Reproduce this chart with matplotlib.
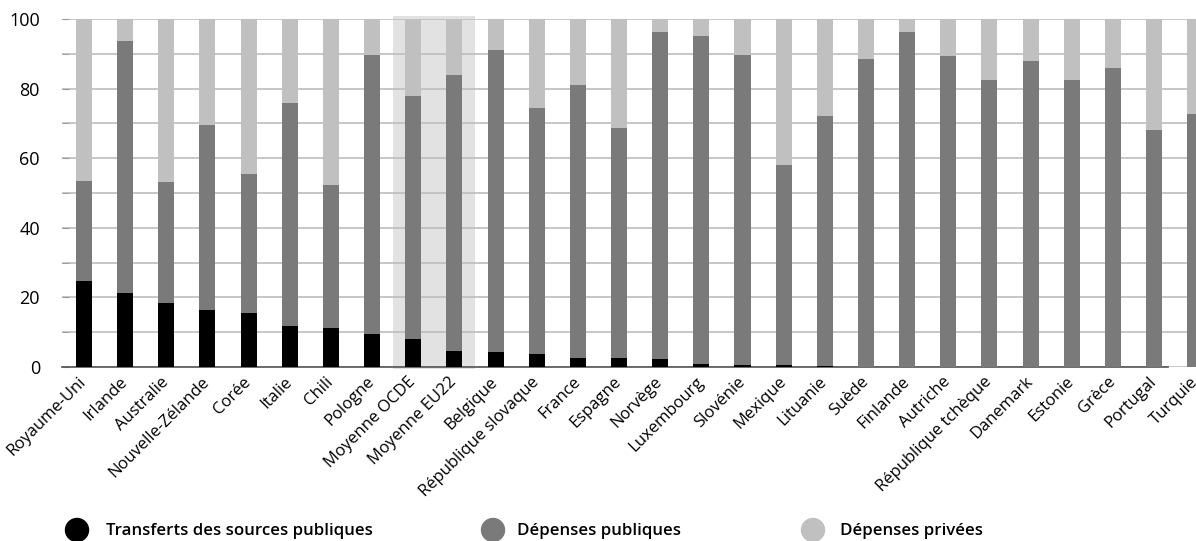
import matplotlib.pyplot as plt
import numpy as np
from matplotlib.patches import Rectangle, Ellipse

pays = ['Royaume-Uni', 'Irlande', 'Australie', 'Nouvelle-Zélande', 'Corée', 'Italie',
        'Chili', 'Pologne', 'Moyenne OCDE', 'Moyenne EU22', 'Belgique',
        'République slovaque', 'France', 'Espagne', 'Norvège', 'Luxembourg',
        'Slovénie', 'Mexique', 'Lituanie', 'Suède', 'Finlande', 'Autriche',
        'République tchèque', 'Danemark', 'Estonie', 'Grèce', 'Portugal', 'Turquie']

# part des transferts (bas de la barre)
transferts = [24.6, 21.2, 18.4, 16.3, 15.6, 11.7, 11.1, 9.5, 8.0, 4.5, 4.3,
              3.7, 2.7, 2.5, 2.3, 0.8, 0.5, 0.5, 0.2, 0.0, 0.0, 0.0,
              0.0, 0.0, 0.0, 0.0, 0.0, 0.0]
# sommet cumulé des dépenses publiques
publiques_cumul = [53.4, 93.7, 53.2, 69.5, 55.4, 75.8, 52.3, 89.6, 77.8, 83.9, 91.1,
                   74.5, 81.0, 68.7, 96.2, 95.2, 89.6, 58.1, 72.0, 88.5, 96.3, 89.5,
                   82.5, 87.9, 82.5, 85.9, 68.1, 72.7]

transferts = np.array(transferts)
publiques = np.array(publiques_cumul) - transferts
privees = 100 - np.array(publiques_cumul)

c_noir = '#000000'
c_fonce = '#7a7a7a'
c_clair = '#c0c0c0'

plt.rcParams['font.family'] = ['Open Sans', 'DejaVu Sans']

fig = plt.figure(figsize=(11.96, 5.41), dpi=100)
ax = fig.add_axes([0.052, 0.3216, 0.948, 0.6433])

x = np.arange(len(pays))
w = 0.39

# zone grisée des moyennes
ax.add_patch(Rectangle((7.52, -0.5), 1.97, 101.4, facecolor='#e2e2e2',
                       edgecolor='none', zorder=0, clip_on=False))

ax.bar(x, transferts, w, color=c_noir, zorder=3)
ax.bar(x, publiques, w, bottom=transferts, color=c_fonce, zorder=3)
ax.bar(x, privees, w, bottom=publiques_cumul, color=c_clair, zorder=3)

ax.set_xlim(-0.53, 27.02)
ax.set_ylim(0, 100)
ax.set_yticks(np.arange(0, 101, 20))
ax.set_yticks(np.arange(10, 100, 20), minor=True)
ax.grid(axis='y', which='both', color='#bdbdbd', lw=1.2, zorder=1)
ax.set_axisbelow(True)
for s in ['top', 'right', 'left']:
    ax.spines[s].set_visible(False)
ax.spines['bottom'].set_color('#555555')
ax.spines['bottom'].set_linewidth(1.2)
ax.spines['bottom'].set_bounds(-0.53, 26.35)
ax.spines['bottom'].set_zorder(2)

ax.tick_params(axis='y', which='both', direction='in', length=5, color='#999999',
               labelsize=13, pad=16)
ax.tick_params(axis='x', length=0, pad=9)
ax.set_xticks(x)
ax.set_xticklabels(pays, rotation=45, ha='right', va='center',
                   rotation_mode='anchor', fontsize=12)

# légende
leg = [('Transferts des sources publiques', c_noir, 77, 106),
       ('Dépenses publiques', c_fonce, 493, 517),
       ('Dépenses privées', c_clair, 813, 840)]
W, H = 1196.0, 541.0
for txt, col, cx, tx in leg:
    fig.add_artist(Ellipse((cx / W, 1 - 530 / H), 23 / W, 23 / H,
                           transform=fig.transFigure, color=col))
    fig.text(tx / W, 1 - 535 / H, txt, fontsize=12.2, fontweight='semibold',
             va='baseline')

fig.savefig('out.png', dpi=100)
